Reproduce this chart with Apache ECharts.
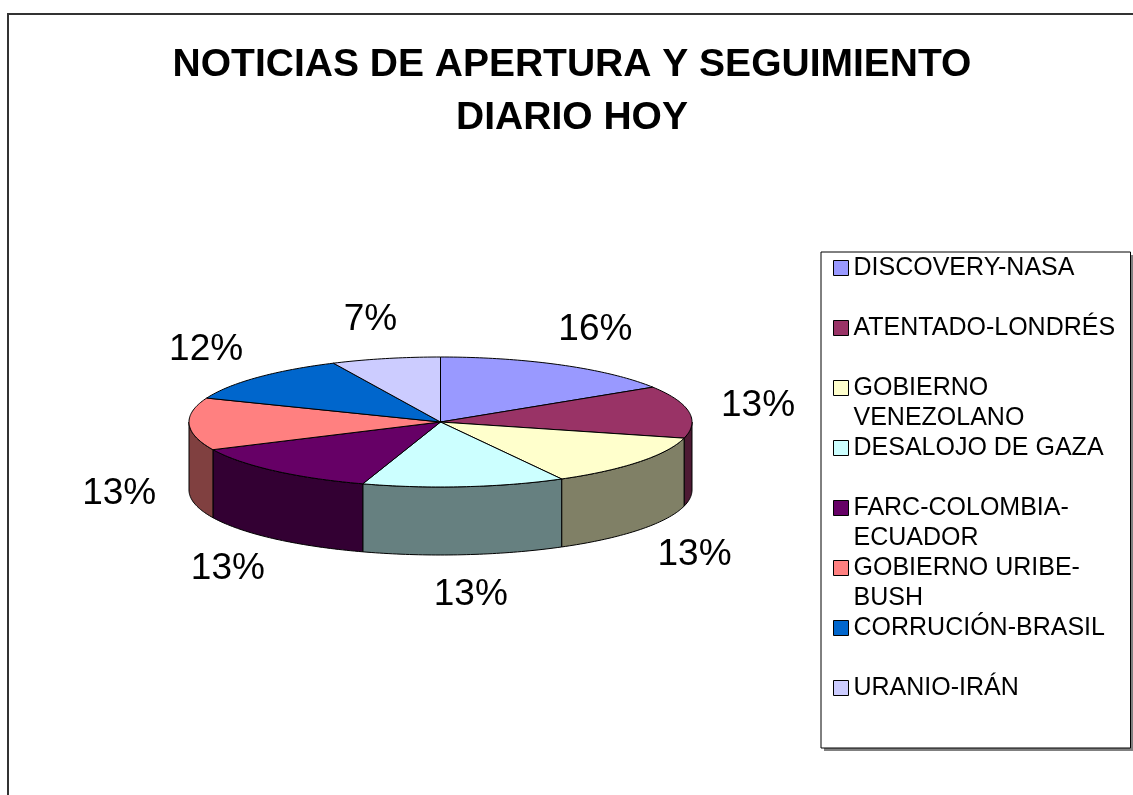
<!DOCTYPE html>
<html><head><meta charset="utf-8">
<script src="https://cdn.jsdelivr.net/npm/echarts@6/dist/echarts.min.js"></script>
<style>html,body{margin:0;padding:0;background:#fff}#chart{width:1133px;height:795px}</style>
</head><body><div id="chart"></div>
<script>
const categories = ['DISCOVERY-NASA','ATENTADO-LONDRÉS','GOBIERNO VENEZOLANO','DESALOJO DE GAZA','FARC-COLOMBIA-ECUADOR','GOBIERNO URIBE-BUSH','CORRUCIÓN-BRASIL','URANIO-IRÁN'];
const legendText = ['DISCOVERY-NASA\n','ATENTADO-LONDRÉS\n','GOBIERNO\nVENEZOLANO','DESALOJO DE GAZA\n','FARC-COLOMBIA-\nECUADOR','GOBIERNO URIBE-\nBUSH','CORRUCIÓN-BRASIL\n','URANIO-IRÁN\n'];
const values = [16, 13, 13, 13, 13, 13, 12, 7];

const topColors = ['#9999FF','#993366','#FFFFCC','#CCFFFF','#660066','#FF8080','#0066CC','#CCCCFF'];
const sideColors = ['#4D4D80','#4D1A33','#808066','#668080','#330033','#804040','#003366','#666680'];
const FONT = 'Arial, "Liberation Sans", sans-serif';

const total = values.reduce((a, b) => a + b, 0);
const starts = [];
let acc = 0;
values.forEach(v => { starts.push(acc); acc += v; });

const PIE = { cx: 440.5, cy: 422, rx: 251.5, ry: 65, depth: 68, labelDx: 70, labelDy: 40 };

function pt(deg, dy) {
  const r = deg * Math.PI / 180;
  return [PIE.cx + PIE.rx * Math.sin(r), PIE.cy - PIE.ry * Math.cos(r) + dy];
}
function arc(a0, a1, dy) {
  const pts = [];
  const n = Math.max(2, Math.ceil(a1 - a0));
  for (let k = 0; k <= n; k++) pts.push(pt(a0 + (a1 - a0) * k / n, dy));
  return pts;
}
function makeRender(i) {
  return function (params, api) {
    const a0 = starts[i] / total * 360;
    const a1 = (starts[i] + api.value(0)) / total * 360;
    const children = [];
    const w0 = Math.max(a0, 90), w1 = Math.min(a1, 270);
    if (w1 > w0) {
      const top = arc(w0, w1, 0);
      const bot = arc(w0, w1, PIE.depth).reverse();
      children.push({ type: 'polygon', shape: { points: top.concat(bot) },
        style: { fill: sideColors[i], stroke: '#000', lineWidth: 1, lineJoin: 'round' } });
    }
    const face = [[PIE.cx, PIE.cy]].concat(arc(a0, a1, 0));
    children.push({ type: 'polygon', shape: { points: face },
      style: { fill: api.visual('color'), stroke: '#000', lineWidth: 1, lineJoin: 'round' } });
    const m = (a0 + a1) / 2 * Math.PI / 180;
    const s = Math.sin(m), c = Math.cos(m);
    const lx = PIE.cx + (PIE.rx + PIE.labelDx) * s;
    const ly = PIE.cy - (PIE.ry + PIE.labelDy) * c + (c < 0 ? PIE.depth : 0);
    children.push({ type: 'text', style: { text: Math.round(api.value(0) / total * 100) + '%',
      x: lx, y: ly, align: 'center', verticalAlign: 'middle', font: '37px ' + FONT, fill: '#000' } });
    return { type: 'group', children };
  };
}

const chart = echarts.init(document.getElementById('chart'), null, { renderer: 'canvas' });
chart.setOption({
  animation: false,
  backgroundColor: '#fff',
  color: topColors,
  title: {
    text: 'NOTICIAS DE APERTURA Y SEGUIMIENTO\nDIARIO HOY',
    left: 572, top: 38.5, textAlign: 'center', padding: 0,
    textStyle: { fontSize: 39, fontWeight: 'bold', fontFamily: FONT, color: '#000', lineHeight: 53 }
  },
  legend: {
    orient: 'vertical', left: 821, top: 252,
    icon: 'path://M0,0L15,0L15,15L0,15Z M0,45',
    itemWidth: 15, itemHeight: 45, itemGap: 0,
    padding: [1, 12, 15, 12],
    borderColor: '#000', borderWidth: 1, backgroundColor: '#fff',
    itemStyle: { borderColor: '#000', borderWidth: 1 },
    selectedMode: false,
    textStyle: { fontFamily: FONT, fontSize: 25, color: '#000', width: 265, lineHeight: 30 },
    formatter: name => legendText[categories.indexOf(name)],
    data: categories
  },
  graphic: [{
    type: 'rect', silent: true, z: -1,
    shape: { x: 8, y: 14, width: 1300, height: 900 },
    style: { fill: 'none', stroke: '#333', lineWidth: 2 }
  }, {
    type: 'rect', silent: true, z: 0,
    shape: { x: 824, y: 255, width: 309, height: 496 },
    style: { fill: '#808080' }
  }],
  series: categories.map((name, i) => ({
    type: 'custom', name, coordinateSystem: 'none',
    data: [values[i]],
    itemStyle: { color: topColors[i] },
    renderItem: makeRender(i)
  }))
});
</script>
</body></html>
